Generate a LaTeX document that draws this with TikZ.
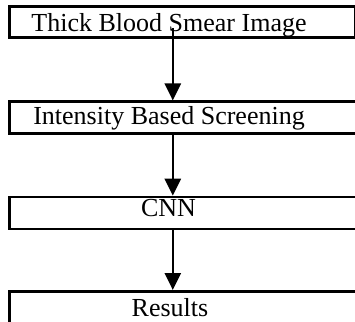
\documentclass[tikz,border=0pt]{standalone}
\usepackage{fontspec}
\setmainfont{Liberation Serif}
\usetikzlibrary{arrows.meta}
\begin{document}
\begin{tikzpicture}[x=1pt,y=1pt,
  stage/.style={draw, line width=2.5pt, rectangle, inner sep=0pt, anchor=north west},
  caption/.style={font=\fontsize{26}{30}\selectfont, anchor=base, inner sep=0pt},
  flow/.style={line width=2.5pt, -{Triangle[length=17pt,width=16pt]}}]
\useasboundingbox (0,0) rectangle (355,321);
\clip (0,0) rectangle (355,321);

% stage boxes
\node[stage, minimum width=346pt, minimum height=31pt] (b1) at (8,315.5) {};
\node[stage, minimum width=360pt, minimum height=32pt] (b2) at (8,220.5) {};
\node[stage, minimum width=360pt, minimum height=32pt] (b3) at (8,125.3) {};
\node[stage, minimum width=360pt, minimum height=40pt] (b4) at (8,31) {};

% stage captions
\node[caption] (t1) at (169,289.3) {Thick Blood Smear Image};
\node[caption] (t2) at (169,196) {Intensity Based Screening};
\node[caption] (t3) at (168.5,104) {CNN};
\node[caption] (t4) at (170,5) {Results};

% connectors
\coordinate (a1) at (172.8,293);
\draw[flow] (a1) -- (a1 |- b2.north);
\draw[flow] (b2.south -| a1) -- (b3.north -| a1);
\draw[flow] (b3.south -| a1) -- (b4.north -| a1);
\end{tikzpicture}
\end{document}
